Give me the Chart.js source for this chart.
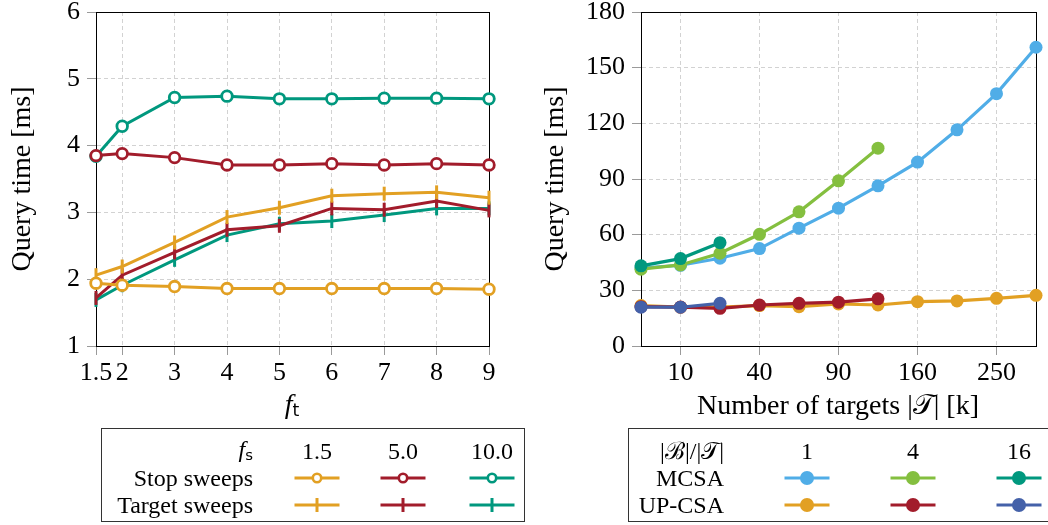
<!DOCTYPE html>
<html>
<head>
<meta charset="utf-8">
<script src="https://cdn.jsdelivr.net/npm/chart.js@4.4.0/dist/chart.umd.min.js"></script>
<style>
  body { margin:0; width:1048px; height:525px; overflow:hidden; background:#fff; position:relative;
         font-family:"Liberation Serif", serif; color:#000; }
  canvas { position:absolute; top:0; }
  #left { left:0; }
  #right { left:524px; }
  .lbl { position:absolute; white-space:nowrap; font-size:28px; line-height:28px; text-align:center; }
  .legend { position:absolute; border:1.4px solid #333; box-sizing:border-box; font-size:24px; }
  .legend div { position:absolute; white-space:nowrap; line-height:26px; }
  .legend svg { position:absolute; }
  .sub { font-family:"DejaVu Sans", sans-serif; font-size:0.62em; position:relative; top:0.2em; }
</style>
</head>
<body>
<canvas id="left" width="524" height="425"></canvas>
<canvas id="right" width="524" height="425"></canvas>
<div class="lbl" style="left:242px; width:100px; top:390px;"><i>f</i><span class="sub">t</span></div>
<div class="lbl" style="left:638px; width:400px; top:391px;">Number of targets |𝒯| [k]</div>
<div class="legend" id="legLeft" style="left:101px; top:428px; width:424px; height:94px;"></div>
<div class="legend" id="legRight" style="left:628px; top:428px; width:440px; height:94px;"></div>
<script>
// left chart: query time over f_t, one line per f_s
const ftValues = [1.5, 2, 3, 4, 5, 6, 7, 8, 9];
const fsLabels = ['1.5', '5.0', '10.0'];
const stopFs15 = [1.94, 1.91, 1.89, 1.86, 1.86, 1.86, 1.86, 1.86, 1.85];
const stopFs50 = [3.85, 3.88, 3.82, 3.71, 3.71, 3.73, 3.71, 3.73, 3.71];
const stopFs100 = [3.84, 4.29, 4.72, 4.74, 4.70, 4.70, 4.71, 4.71, 4.70];
const targetFs15 = [2.06, 2.19, 2.55, 2.93, 3.07, 3.25, 3.28, 3.30, 3.22];
const targetFs50 = [1.72, 2.06, 2.40, 2.74, 2.80, 3.06, 3.04, 3.17, 3.03];
const targetFs100 = [1.69, 1.91, 2.29, 2.66, 2.83, 2.87, 2.96, 3.06, 3.06];

// right chart: query time over number of targets (thousands)
const targetsK = [2.5, 10, 22.5, 40, 62.5, 90, 122.5, 160, 202.5, 250, 302.5];
const targetTickLabels = [10, 40, 90, 160, 250];
const ratioLabels = ['1', '4', '16'];
const mcsa1 = [42, 43.5, 47.3, 52.5, 63.5, 74.3, 86.3, 99.1, 116.5, 136, 161];
const mcsa4 = [41.4, 43.7, 50, 60.2, 72.3, 89, 106.6];
const mcsa16 = [43.2, 47.1, 55.7];
const upcsa1 = [21.8, 20.9, 21, 21.8, 21.2, 22.7, 22.1, 23.9, 24.3, 25.7, 27.3];
const upcsa4 = [21.2, 21, 20.3, 22.1, 23, 23.6, 25.4];
const upcsa16 = [20.9, 20.9, 23];

const orange = '#E2A023', red = '#A21C2B', teal = '#00987E';
const lblue = '#50ADE7', green = '#84BF3F', dblue = '#4461A9';

const serif = "'Liberation Serif', serif";
const gridColor = '#d2d2d2';

// box round the plot area
const frame = {
  id: 'frame',
  beforeDatasetsDraw(chart) {
    const a = chart.chartArea, ctx = chart.ctx;
    ctx.save();
    ctx.strokeStyle = '#000';
    ctx.lineWidth = 1;
    ctx.strokeRect(Math.round(a.left) + 0.5, Math.round(a.top) + 0.5,
                   Math.round(a.right - a.left), Math.round(a.bottom - a.top));
    ctx.restore();
  }
};

function fixSize(w, h) {
  return function (scale) {
    if (w != null) scale.width = w;
    if (h != null) scale.height = h;
    scale.paddingTop = 0; scale.paddingBottom = 0;
    scale.paddingLeft = 0; scale.paddingRight = 0;
  };
}

function axisStyle() {
  return {
    grid: { color: gridColor, lineWidth: 1, tickLength: 9, tickColor: '#9a9a9a' },
    border: { display: true, color: '#000', width: 1, dash: [4, 3] },
    ticks: { color: '#000', font: { family: serif, size: 26 }, autoSkip: false, maxRotation: 0 }
  };
}

function toPoints(xs, ys) {
  return ys.map((y, i) => ({ x: xs[i], y: y }));
}

function stopSet(color, values) {
  return {
    data: toPoints(ftValues, values), borderColor: color, borderWidth: 3,
    pointStyle: 'circle', pointRadius: 5.3, pointBorderWidth: 2.8,
    pointBackgroundColor: '#fff', pointBorderColor: color
  };
}
function targetSet(color, values) {
  return {
    data: toPoints(ftValues, values), borderColor: color, borderWidth: 3,
    pointStyle: 'line', pointRotation: 90, pointRadius: 7, pointBorderWidth: 3,
    pointBorderColor: color, pointBackgroundColor: color
  };
}

const lx = axisStyle(), ly = axisStyle(), rx = axisStyle(), ry = axisStyle();

new Chart(document.getElementById('left'), {
  type: 'line',
  data: {
    datasets: [
      stopSet(orange, stopFs15), targetSet(orange, targetFs15),
      stopSet(red, stopFs50), targetSet(red, targetFs50),
      stopSet(teal, stopFs100), targetSet(teal, targetFs100)
    ]
  },
  options: {
    responsive: false, animation: false,
    layout: { padding: { left: 0, top: 12, right: 35, bottom: 0 } },
    plugins: { legend: { display: false }, tooltip: { enabled: false } },
    datasets: { line: { clip: false, tension: 0 } },
    scales: {
      x: Object.assign(lx, {
        type: 'linear', min: 1.5, max: 9,
        afterBuildTicks: s => { s.ticks = ftValues.map(v => ({ value: v })); },
        afterFit: fixSize(null, 79),
        ticks: Object.assign(lx.ticks, { padding: 3, callback: v => String(v) })
      }),
      y: Object.assign(ly, {
        min: 1, max: 6,
        afterFit: fixSize(96, null),
        ticks: Object.assign(ly.ticks, { stepSize: 1, padding: 7 }),
        title: { display: true, text: 'Query time [ms]', color: '#000',
                 font: { family: serif, size: 28 }, padding: { top: 6, bottom: 0 } }
      })
    }
  },
  plugins: [frame]
});

function dotSet(color, values) {
  return {
    data: toPoints(targetsK.map(Math.sqrt), values), borderColor: color, borderWidth: 3.2,
    pointStyle: 'circle', pointRadius: 6.5, pointBorderWidth: 0,
    pointBackgroundColor: color, pointBorderColor: color
  };
}

new Chart(document.getElementById('right'), {
  type: 'line',
  data: {
    datasets: [
      dotSet(teal, mcsa16), dotSet(green, mcsa4), dotSet(lblue, mcsa1),
      dotSet(dblue, upcsa16), dotSet(red, upcsa4), dotSet(orange, upcsa1)
    ]
  },
  options: {
    responsive: false, animation: false,
    layout: { padding: { left: 0, top: 12, right: 12, bottom: 0 } },
    plugins: { legend: { display: false }, tooltip: { enabled: false } },
    datasets: { line: { clip: false, tension: 0 } },
    scales: {
      x: Object.assign(rx, {
        type: 'linear',
        min: Math.sqrt(targetsK[0]), max: Math.sqrt(targetsK[targetsK.length - 1]),
        afterBuildTicks: s => { s.ticks = targetTickLabels.map(v => ({ value: Math.sqrt(v) })); },
        afterFit: fixSize(null, 79),
        ticks: Object.assign(rx.ticks, { padding: 3, callback: v => String(Math.round(v * v)) })
      }),
      y: Object.assign(ry, {
        min: 0, max: 180,
        afterFit: fixSize(117, null),
        ticks: Object.assign(ry.ticks, { stepSize: 30, padding: 7 }),
        title: { display: true, text: 'Query time [ms]', color: '#000',
                 font: { family: serif, size: 28 }, padding: { top: 15, bottom: 0 } }
      })
    }
  },
  plugins: [frame]
});

// legends as small tables
const svgNS = 'http://www.w3.org/2000/svg';
function sample(box, cx, cy, color, kind) {
  const svg = document.createElementNS(svgNS, 'svg');
  svg.setAttribute('width', 50); svg.setAttribute('height', 20);
  svg.style.left = (cx - 25) + 'px'; svg.style.top = (cy - 10) + 'px';
  let html = '<line x1="2.5" y1="10" x2="47.5" y2="10" stroke="' + color + '" stroke-width="3"/>';
  if (kind === 'open') html += '<circle cx="25" cy="10" r="4.2" fill="#fff" stroke="' + color + '" stroke-width="2.6"/>';
  if (kind === 'cross') html += '<line x1="25" y1="3" x2="25" y2="17" stroke="' + color + '" stroke-width="3"/>';
  if (kind === 'dot') html += '<circle cx="25" cy="10" r="7" fill="' + color + '"/>';
  svg.innerHTML = html;
  box.appendChild(svg);
}
function text(box, html, left, top, width, align) {
  const d = document.createElement('div');
  d.innerHTML = html;
  d.style.left = left + 'px'; d.style.top = top + 'px';
  d.style.width = width + 'px'; d.style.textAlign = align;
  box.appendChild(d);
}

const rowY = [22, 49, 76];
const legL = document.getElementById('legLeft');
const colL = [215, 301, 390];
const colorsL = [orange, red, teal];
text(legL, '<i>f</i><span class="sub">s</span>', 0, rowY[0] - 15, 151, 'right');
text(legL, 'Stop sweeps', 0, rowY[1] - 13, 151, 'right');
text(legL, 'Target sweeps', 0, rowY[2] - 13, 151, 'right');
fsLabels.forEach((l, i) => {
  text(legL, l, colL[i] - 40, rowY[0] - 13, 80, 'center');
  sample(legL, colL[i], rowY[1], colorsL[i], 'open');
  sample(legL, colL[i], rowY[2], colorsL[i], 'cross');
});

const legR = document.getElementById('legRight');
const colR = [178, 284, 390];
const colorsTop = [lblue, green, teal];
const colorsBottom = [orange, red, dblue];
text(legR, '|ℬ|/|𝒯|', 0, rowY[0] - 13, 95, 'right');
text(legR, 'MCSA', 0, rowY[1] - 13, 95, 'right');
text(legR, 'UP-CSA', 0, rowY[2] - 13, 95, 'right');
ratioLabels.forEach((l, i) => {
  text(legR, l, colR[i] - 40, rowY[0] - 13, 80, 'center');
  sample(legR, colR[i], rowY[1], colorsTop[i], 'dot');
  sample(legR, colR[i], rowY[2], colorsBottom[i], 'dot');
});
</script>
</body>
</html>
